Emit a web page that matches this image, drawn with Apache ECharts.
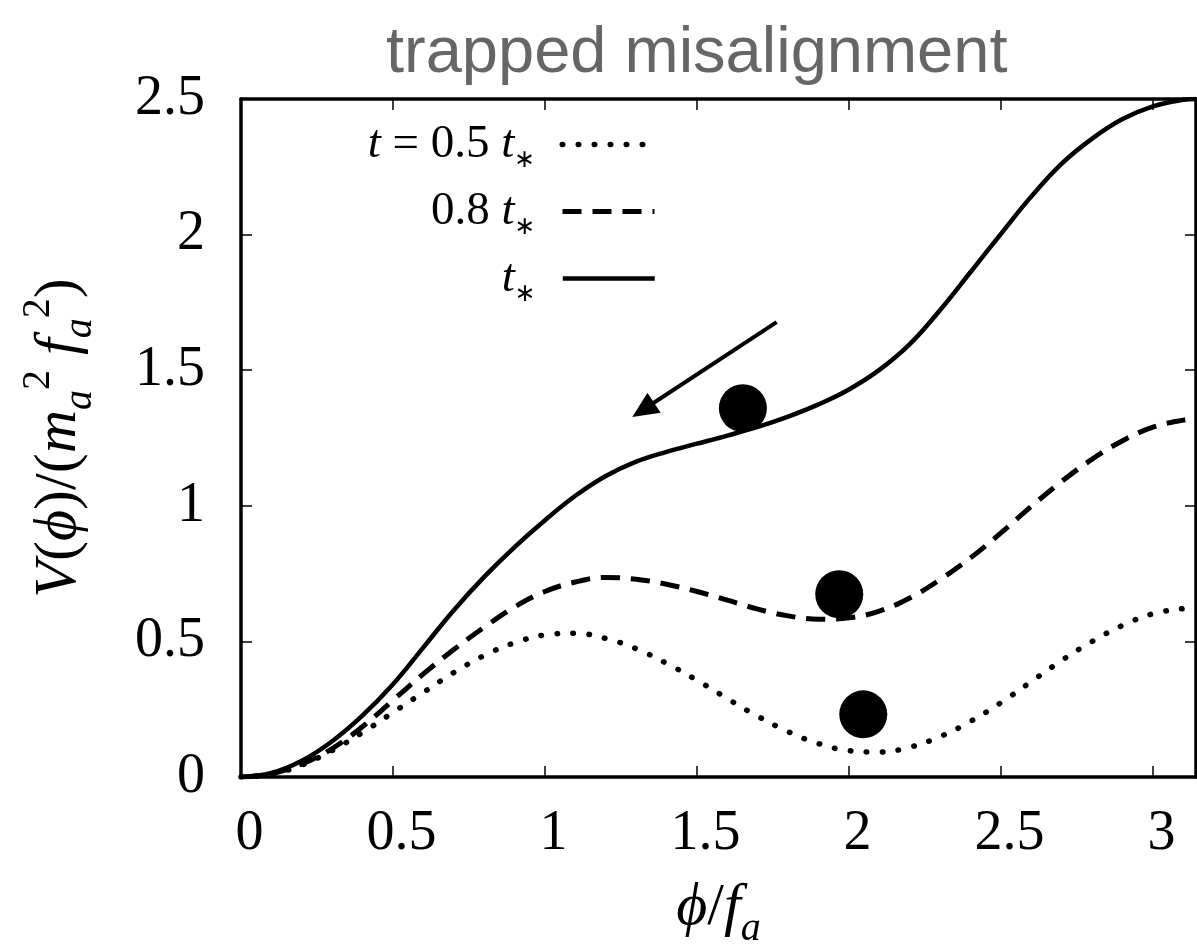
<!DOCTYPE html>
<html><head><meta charset="utf-8">
<script src="https://cdn.jsdelivr.net/npm/echarts@6/dist/echarts.min.js"></script>
<style>html,body{margin:0;padding:0;background:#fff}#c{width:1197px;height:946px}</style>
</head><body><div id="c"></div>
<script>
// phi / f_a sample positions
const phiValues = [0,0.1,0.2,0.3,0.4,0.5,0.6,0.7,0.8,0.9,1.0,1.1,1.2,1.3,1.4,1.5,1.6,1.7,1.8,1.9,2.0,2.1,2.2,2.3,2.4,2.5,2.6,2.7,2.8,2.9,3.0,3.1,3.1416];
// t = 0.5 t*
const vHalf = [0,0.010,0.044,0.098,0.164,0.238,0.312,0.385,0.448,0.495,0.524,0.530,0.511,0.473,0.419,0.357,0.289,0.224,0.167,0.123,0.097,0.092,0.110,0.149,0.205,0.274,0.352,0.430,0.500,0.559,0.602,0.621,0.625];
// t = 0.8 t*
const vEight = [0,0.012,0.048,0.105,0.186,0.283,0.380,0.470,0.552,0.627,0.684,0.719,0.736,0.729,0.711,0.684,0.652,0.619,0.594,0.582,0.587,0.612,0.660,0.728,0.808,0.900,0.998,1.090,1.172,1.240,1.290,1.316,1.320];
// t = t*
const vFull = [0,0.015,0.060,0.132,0.227,0.342,0.478,0.615,0.738,0.848,0.947,1.037,1.110,1.163,1.199,1.229,1.259,1.291,1.329,1.374,1.429,1.501,1.596,1.722,1.862,2.003,2.141,2.262,2.354,2.426,2.473,2.497,2.500];
// balls: [phi, V]
const balls = [[1.651,1.360],[1.968,0.674],[2.047,0.231]];
// arrow (data coordinates)
const arrowFrom = [1.762,1.677];
const arrowTo = [1.323,1.354];
const seriesNames = ['half','eight','full'];
const legendText = {
  half: '{i|t}{n| = 0.5 }{i|t}{s|∗}',
  eight: '{n|0.8 }{i|t}{s|∗}',
  full: '{i|t}{s|∗}'
};
const legendTops = [121, 188, 255];
const titleText = 'trapped misalignment';

const pairs = v => phiValues.map((x,i)=>[x, v[i]]);
const serif = 'Liberation Serif';
const mathRich = {
  n: {fontFamily: serif, fontSize: 60, lineHeight: 82, verticalAlign: 'middle', color: '#000'},
  i: {fontFamily: serif, fontStyle: 'italic', fontSize: 60, lineHeight: 82, verticalAlign: 'middle', color: '#000'},
  sub: {fontFamily: serif, fontStyle: 'italic', fontSize: 40, lineHeight: 40, verticalAlign: 'bottom', color: '#000'},
  sup: {fontFamily: serif, fontSize: 40, lineHeight: 36, verticalAlign: 'top', color: '#000'}
};
const axisCommon = {
  axisLine: {show: true, onZero: false, lineStyle: {color: '#000', width: 3.5}},
  axisTick: {show: true, inside: true, length: 11, lineStyle: {color: '#000', width: 1.5}},
  splitLine: {show: false}
};
const legends = seriesNames.map((nm, k) => ({
  orient: 'vertical', align: 'right', right: 540, top: legendTops[k], padding: 0,
  itemWidth: 92, itemHeight: 20, selectedMode: false,
  data: [nm],
  formatter: name => legendText[name],
  itemStyle: {opacity: 0},
  lineStyle: {width: 'inherit', opacity: 1},
  textStyle: {fontFamily: serif, fontSize: 40, color: '#000', padding: [0, 22, 0, 0],
    rich: {
      n: {fontFamily: serif, fontSize: 47, lineHeight: 56, verticalAlign: 'middle', color: '#000'},
      i: {fontFamily: serif, fontStyle: 'italic', fontSize: 47, lineHeight: 56, verticalAlign: 'middle', color: '#000'},
      s: {fontFamily: 'DejaVu Sans', fontSize: 25, lineHeight: 30, verticalAlign: 'bottom', color: '#000'}
    }}
}));
const chart = echarts.init(document.getElementById('c'), null, {renderer: 'canvas'});
chart.setOption({
  animation: false,
  backgroundColor: '#fff',
  title: {text: titleText, left: 381, top: 17,
    textStyle: {fontFamily: 'Liberation Sans', fontSize: 65, fontWeight: 'normal', color: '#666'}},
  grid: {left: 241, right: 1, top: 99, bottom: 169, containLabel: false, outerBoundsMode: 'none'},
  legend: legends,
  xAxis: [
    Object.assign({type: 'value', position: 'bottom', min: 0, max: 3.1416, interval: 0.5,
      axisLabel: {margin: 29, fontFamily: serif, fontSize: 56, color: '#000', showMaxLabel: false, padding: [0,0,0,17]},
      name: '{i|ϕ}{n|/}{i|f}{sub|a}', nameLocation: 'middle', nameGap: 90,
      nameTextStyle: {rich: mathRich}}, axisCommon),
    Object.assign({type: 'value', position: 'top', min: 0, max: 3.1416, interval: 0.5,
      axisLabel: {show: false}}, axisCommon)
  ],
  yAxis: [
    Object.assign({type: 'value', position: 'left', min: 0, max: 2.5, interval: 0.5,
      axisLabel: {margin: 36, fontFamily: serif, fontSize: 56, color: '#000'},
      name: '{i|V}{n|(}{i|ϕ}{n|)/(}{i|m}{sub|a}{sup|2}{i| f}{sub|a}{sup|2}{n|)}',
      nameLocation: 'middle', nameGap: 141, nameTextStyle: {rich: mathRich}}, axisCommon),
    Object.assign({type: 'value', position: 'right', min: 0, max: 2.5, interval: 0.5,
      axisLabel: {show: false}}, axisCommon)
  ],
  series: [
    {name: 'half', type: 'line', data: pairs(vHalf), smooth: 0.4, symbol: 'none',
      lineStyle: {color: '#000', width: 5.5, type: [0.5, 15.5], cap: 'round'}, itemStyle: {color: '#000'}},
    {name: 'eight', type: 'line', data: pairs(vEight), smooth: 0.4, symbol: 'none',
      lineStyle: {color: '#000', width: 5, type: [19, 11], cap: 'butt'}, itemStyle: {color: '#000'}},
    {name: 'full', type: 'line', data: pairs(vFull), smooth: 0.4, symbol: 'none',
      lineStyle: {color: '#000', width: 4.5}, itemStyle: {color: '#000'}},
    {name: 'balls', type: 'scatter', data: balls, symbol: 'circle', symbolSize: 48,
      itemStyle: {color: '#000', opacity: 1}, silent: true, z: 5},
    {name: 'arrow', type: 'line', data: [], silent: true,
      markLine: {silent: true, symbol: ['none', 'triangle'], symbolSize: [24, 26], label: {show: false},
        lineStyle: {color: '#000', width: 4, type: 'solid'},
        data: [[{coord: arrowFrom}, {coord: arrowTo}]]}}
  ]
});
</script></body></html>
